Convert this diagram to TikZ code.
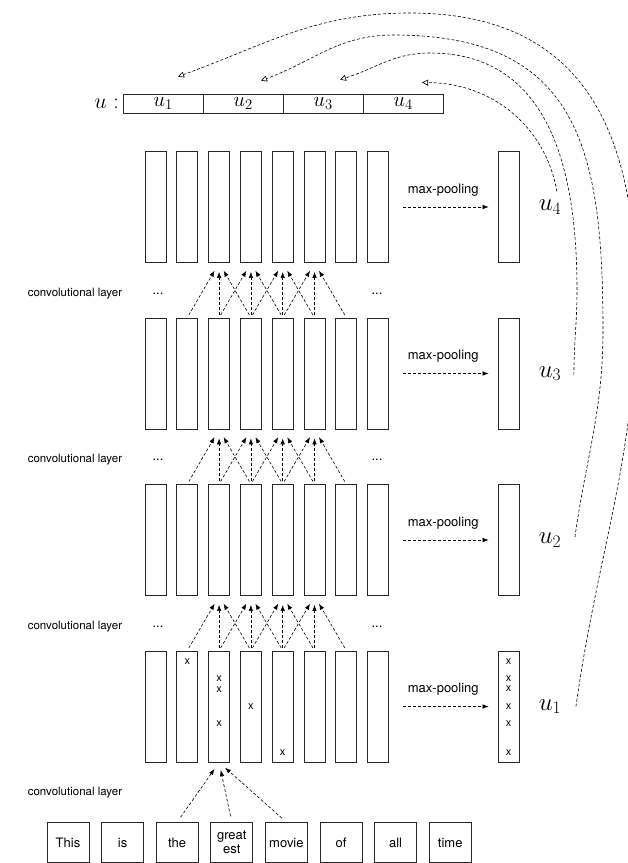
\documentclass[tikz,border=0pt]{standalone}
\usepackage{fix-cm}
\usepackage{fontspec}
\setsansfont{TeX Gyre Heros}
\usetikzlibrary{calc, arrows.meta}
\definecolor{lineGrey}{RGB}{40, 40, 40}

\begin{document}
\begin{tikzpicture} [
        x=1pt, y=1pt,
        col/.style={draw=lineGrey, line width=0.8pt, minimum width=21pt, minimum height=111pt, inner sep=0},
        word/.style={draw=lineGrey, line width=0.8pt, minimum width=42pt, minimum height=40pt, inner sep=0, align=center, font=\sffamily\fontsize{13}{14}\selectfont},
        cell/.style={draw=lineGrey, line width=0.8pt, minimum width=80pt, minimum height=19pt, inner sep=0, font=\fontsize{21}{24}\selectfont},
        txt/.style={inner sep=0, font=\sffamily\fontsize{13}{15}\selectfont},
        layertxt/.style={inner sep=0, font=\sffamily\fontsize{11.5}{13}\selectfont},
        xsign/.style={inner sep=0, font=\sffamily\fontsize{11}{12}\selectfont},
        big/.style={inner sep=0, font=\fontsize{25}{30}\selectfont},
        conv/.style={line width=0.6pt, dash pattern=on 3pt off 2pt, -{Latex[length=6pt, width=4.5pt]}, shorten <=3pt, shorten >=9pt},
        back/.style={line width=0.6pt, dash pattern=on 3pt off 2pt, -{Triangle[open, length=6pt, width=6pt]}}
    ]
        \useasboundingbox (0,0) rectangle (628,-863);

        \foreach \ly/\yy in {1/706.5, 2/540, 3/373.5, 4/207} {
            \foreach \c in {1, ..., 8} {
                \node [col] (h\ly-\c) at ({155.5 + 31.8*(\c-1)}, -\yy) {};
            }
            \node [col] (pool\ly) at (508.5, -\yy) {};
            \node [big] (u\ly) at (550, -\yy) {$u_{\ly}$};
            \draw [conv, shorten <=14pt] (h\ly-8) -- (pool\ly)
                node [txt, midway, yshift=17pt] (mp\ly) {max-pooling};
        }

        % labels in the gaps
        \foreach \yy [count=\i] in {793, 626.5, 460, 293.5} {
            \node [layertxt] (conv\i) at (75, -\yy) {convolutional layer};
        }
        \foreach \yy [count=\i] in {626.5, 460, 293.5} {
            \node [txt] (dl\i) at (158, -\yy) {...};
            \node [txt] (dr\i) at (377, -\yy) {...};
        }

        % convolutions between the layers
        \foreach \ly in {1, 2, 3} {
            \pgfmathtruncatemacro{\up}{\ly + 1}
            \foreach \k in {3, ..., 6} {
                \foreach \j in {-1, 0, 1} {
                    \pgfmathtruncatemacro{\src}{\k + \j}
                    \draw [conv] (h\ly-\src.north) -- (h\up-\k.south);
                }
            }
        }

        % the sentence
        \foreach \t [count=\i] in {This, is, the, {great\\est}, movie, of, all, time} {
            \node [word] (w\i) at ({68 + 54.6*(\i-1)}, -842.5) {\t};
        }
        \foreach \i in {3, 4, 5} {
            \draw [conv, shorten <=6pt, shorten >=8pt] (w\i.north) -- (h1-3.south);
        }

        % activations
        \foreach \c/\yy [count=\i] in {2/662, 3/679, 3/690, 3/724, 4/707, 5/753} {
            \node [xsign] (x\i) at ({155.5 + 31.8*(\c-1)}, -\yy) {x};
        }
        \foreach \yy [count=\i] in {662, 679, 689, 707, 724, 753} {
            \node [xsign] (px\i) at (508.5, -\yy) {x};
        }

        % the vector u
        \foreach \i in {1, ..., 4} {
            \node [cell] (ucell\i) at ({163 + 80*(\i-1)}, -103.5) {$u_{\i}$};
        }
        \node [inner sep=0, anchor=east, font=\fontsize{22}{26}\selectfont] (ulab) at (119, -103.5) {$u$ :};

        \foreach \i/\dx/\dy in {1/15/17, 2/18/13, 3/17/14, 4/19/11} {
            \coordinate (t\i) at ($(ucell\i.north) + (\dx, \dy)$);
        }
        \coordinate (s1) at ($(u1.east) + (14.5, 0)$);
        \coordinate (s2) at ($(u2.east) + (13.5, 3)$);
        \coordinate (s3) at ($(u3.east) + (12.5, -1.5)$);
        \coordinate (s4) at ($(u4.north east) + (-4.5, 8)$);

        \draw [back] (s1) to[out=82, in=-90] (636, -300) to[out=90, in=0, looseness=1.2] (410, -13) to[out=180, in=20] (t1);
        \draw [back] (s2) to[out=82, in=-90] (603, -330) to[out=90, in=0, looseness=1.3] (393, -35) to[out=180, in=20] (t2);
        \draw [back] (s3) to[out=90, in=-90] (577, -290) to[out=90, in=0, looseness=1.1] (430, -53) to[out=180, in=17] (t3);
        \draw [back] (s4) to[out=100, in=0] (t4);
    \end{tikzpicture}
\end{document}
